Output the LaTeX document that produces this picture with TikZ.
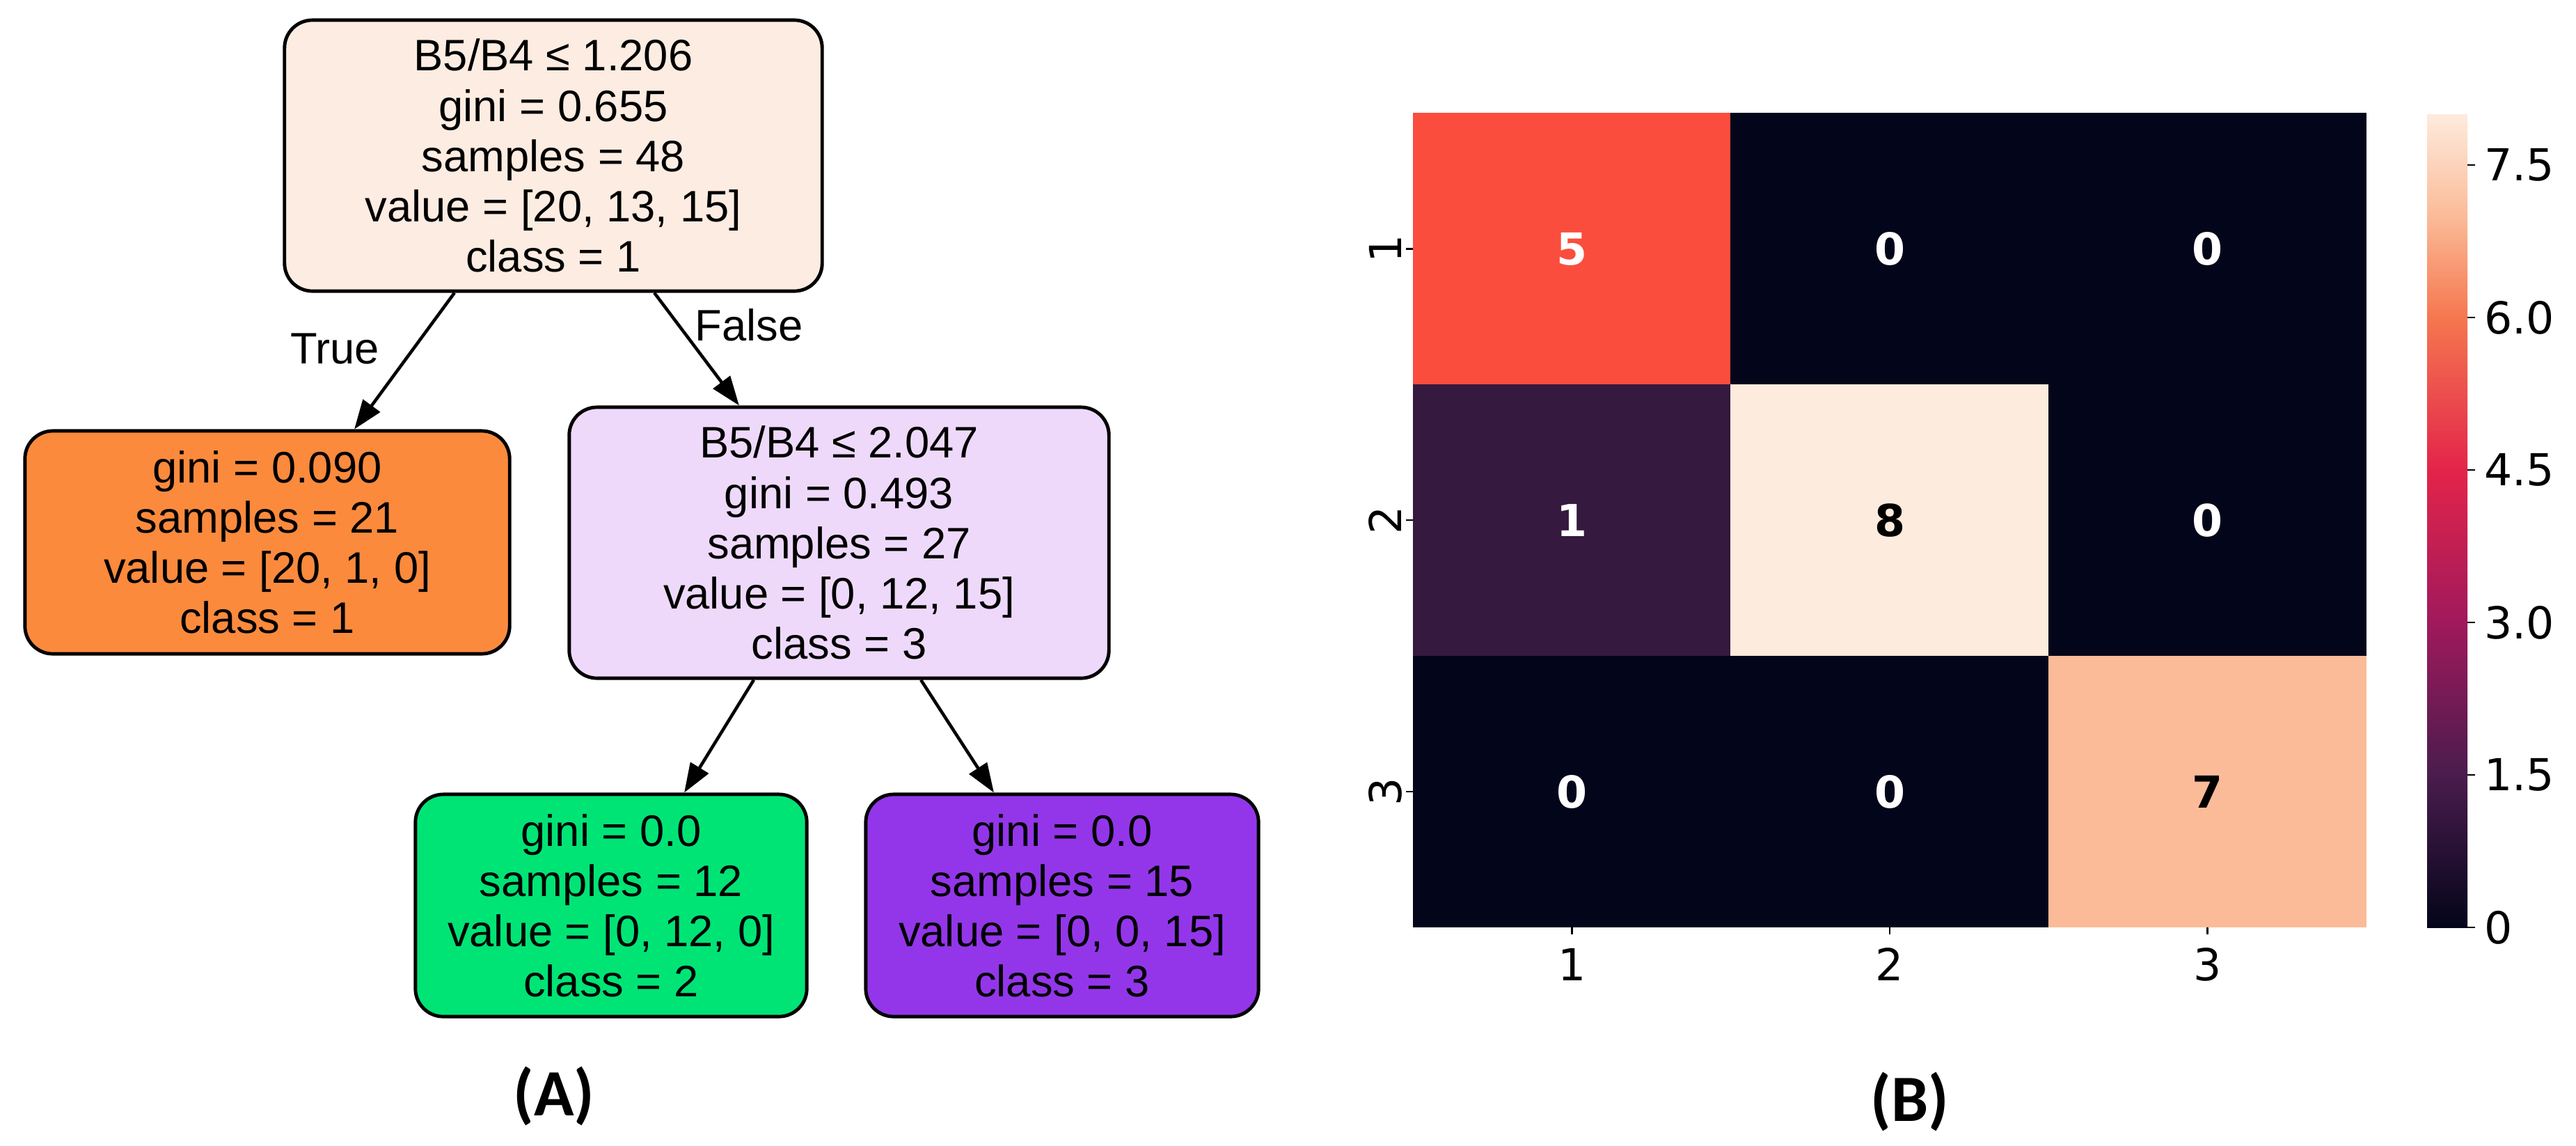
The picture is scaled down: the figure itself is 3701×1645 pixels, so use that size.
\documentclass[tikz,border=0pt]{standalone}
\usepackage{fontspec}
\setmainfont{Liberation Sans}
\newfontfamily\dvfont{DejaVu Sans}
\newfontfamily\carlfont{Carlito}
\usetikzlibrary{arrows.meta}
\definecolor{rootc}{HTML}{FDECE1}
\definecolor{leftc}{HTML}{FB8A3D}
\definecolor{midc}{HTML}{EED9FB}
\definecolor{greenc}{HTML}{00E476}
\definecolor{purpc}{HTML}{9336E9}
\definecolor{h0}{HTML}{03051A}
\definecolor{h1}{HTML}{35193E}
\definecolor{h5}{HTML}{FB4D3D}
\definecolor{h7}{HTML}{FBBB98}
\definecolor{h8}{HTML}{FDEBDD}
\definecolor{c15}{HTML}{4A1C4D}
\definecolor{c30}{HTML}{A0195C}
\definecolor{c45}{HTML}{E3244A}
\definecolor{c60}{HTML}{F5774F}
\tikzset{
  tbox/.style={draw=black, line width=1.4pt, rounded corners=0.4cm, align=center,
    font=\fontsize{18}{20.5}\selectfont, inner sep=0pt},
  arr/.style={line width=1.3pt, -{Triangle[length=0.42cm,width=0.3cm]}},
  cell/.style={minimum width=4.57cm, minimum height=3.9cm, inner sep=0pt, draw=none,
    font=\dvfont\bfseries\fontsize{18}{20}\selectfont},
  ticklab/.style={font=\dvfont\fontsize{18}{20}\selectfont, inner sep=1pt},
  panel/.style={font=\carlfont\bfseries\fontsize{27}{30}\selectfont}
}
\begin{document}
\begin{tikzpicture}[x=0.01cm,y=-0.01cm]
\useasboundingbox (0,0) rectangle (3701,1645);
% tree
\node[tbox, fill=rootc, minimum width=7.72cm, minimum height=3.89cm] (root) at (795,223.5)
  {B5/B4 ≤ 1.206\\gini = 0.655\\samples = 48\\value = [20, 13, 15]\\class = 1};
\node[tbox, fill=leftc, minimum width=6.96cm, minimum height=3.2cm] (left) at (384,779)
  {gini = 0.090\\samples = 21\\value = [20, 1, 0]\\class = 1};
\node[tbox, fill=midc, minimum width=7.75cm, minimum height=3.89cm] (mid) at (1205.5,779.5)
  {B5/B4 ≤ 2.047\\gini = 0.493\\samples = 27\\value = [0, 12, 15]\\class = 3};
\node[tbox, fill=greenc, minimum width=5.62cm, minimum height=3.19cm] (green) at (878,1300.5)
  {gini = 0.0\\samples = 12\\value = [0, 12, 0]\\class = 2};
\node[tbox, fill=purpc, minimum width=5.64cm, minimum height=3.19cm] (purp) at (1526,1300.5)
  {gini = 0.0\\samples = 15\\value = [0, 0, 15]\\class = 3};
\draw[arr] ([xshift=-1.42cm]root.south) -- ([xshift=1.25cm]left.north);
\draw[arr] ([xshift=1.45cm]root.south) -- ([xshift=-1.435cm]mid.north);
\draw[arr] ([xshift=-1.225cm]mid.south) -- ([xshift=1.05cm]green.north);
\draw[arr] ([xshift=1.175cm]mid.south) -- ([xshift=-0.98cm]purp.north);
\node[font=\fontsize{18}{20}\selectfont] (tl) at (481,501) {True};
\node[font=\fontsize{18}{20}\selectfont] (fl) at (1076,467) {False};
\node[panel] (A) at (796,1574) {(A)};
% heatmap
\node[cell, fill=h5, text=white] (c11) at (2258.5,357.5) {5};
\node[cell, fill=h0, text=white] (c12) at (2715,357.5) {0};
\node[cell, fill=h0, text=white] (c13) at (3171.5,357.5) {0};
\node[cell, fill=h1, text=white] (c21) at (2258.5,747) {1};
\node[cell, fill=h8, text=black] (c22) at (2715,747) {8};
\node[cell, fill=h0, text=white] (c23) at (3171.5,747) {0};
\node[cell, fill=h0, text=white] (c31) at (2258.5,1137) {0};
\node[cell, fill=h0, text=white] (c32) at (2715,1137) {0};
\node[cell, fill=h7, text=black] (c33) at (3171.5,1137) {7};
\foreach \i/\y in {1/357.5,2/747,3/1137}{
  \draw[line width=0.8pt] (2020,\y) -- (2030,\y);
  \node[ticklab, rotate=90] (yl\i) at (1990,\y) {\i};
}
\foreach \i/\x in {1/2258.5,2/2715,3/3171.5}{
  \draw[line width=0.8pt] (\x,1332) -- (\x,1342);
  \node[ticklab] (xl\i) at (\x,1385) {\i};
}
% colorbar (0 at y=1332, 146 per unit)
\shade[bottom color=h0, top color=c15] (3487,1332) rectangle (3545,1113);
\shade[bottom color=c15, top color=c30] (3487,1113.5) rectangle (3545,894);
\shade[bottom color=c30, top color=c45] (3487,894.5) rectangle (3545,675);
\shade[bottom color=c45, top color=c60] (3487,675.5) rectangle (3545,456);
\shade[bottom color=c60, top color=h7] (3487,456.5) rectangle (3545,310);
\shade[bottom color=h7, top color=h8] (3487,310.5) rectangle (3545,164);
\foreach \v/\t in {0/0,1.5/1.5,3/3.0,4.5/4.5,6/6.0,7.5/7.5}{
  \pgfmathsetmacro\yy{1332-146*\v}
  \draw[line width=0.8pt] (3545,\yy) -- (3556,\yy);
  \node[ticklab, anchor=west] at (3565,\yy) {\t};
}
\node[panel] (B) at (2744,1582) {(B)};
\end{tikzpicture}
\end{document}
